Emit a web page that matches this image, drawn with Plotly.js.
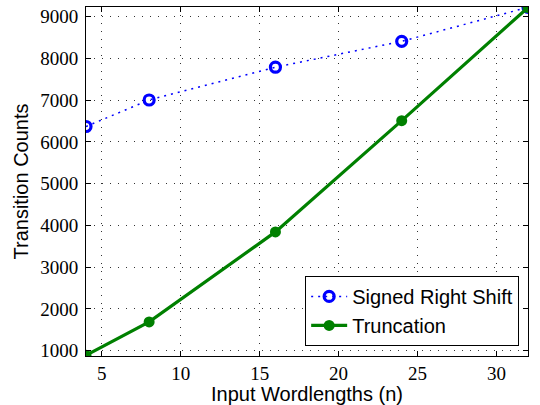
<!DOCTYPE html>
<html><head><meta charset="utf-8">
<script src="https://cdn.plot.ly/plotly-3.0.1.min.js"></script>
<style>body{margin:0;padding:0;background:#fff}#plot{width:540px;height:405px}</style>
</head><body><div id="plot"></div>
<script>
const wordlengths = [4, 8, 16, 24, 32];
const signedRightShift = [6370, 7005, 7790, 8410, 9225];
const truncation = [890, 1690, 3845, 6510, 9220];
const xTicks = [5, 10, 15, 20, 25, 30];
const yTicks = [1000, 2000, 3000, 4000, 5000, 6000, 7000, 8000, 9000];

function axis(extra) {
  return Object.assign({
    showline: true, linecolor: '#000', linewidth: 1, mirror: 'ticks',
    ticks: 'inside', ticklen: 5, tickcolor: '#000',
    showgrid: true, gridcolor: '#333', griddash: '1px,7px', gridwidth: 1,
    zeroline: false,
    tickfont: {family: 'Liberation Serif', size: 19, color: '#000'}
  }, extra);
}

const traces = [
  {x: wordlengths, y: signedRightShift, name: 'Signed Right Shift', mode: 'lines+markers',
   line: {color: '#0000ff', width: 1.5, dash: '2px,5px'},
   marker: {symbol: 'circle-open', size: 10, color: '#0000ff', line: {width: 3.2, color: '#0000ff'}}},
  {x: wordlengths, y: truncation, name: 'Truncation', mode: 'lines+markers',
   line: {color: '#008000', width: 3.2},
   marker: {symbol: 'circle', size: 11, color: '#008000'}}
];
const layout = {
  width: 540, height: 405,
  font: {family: 'Liberation Sans', color: '#000'},
  margin: {l: 86, r: 12, t: 7, b: 49},
  paper_bgcolor: '#fff', plot_bgcolor: '#fff',
  showlegend: true,
  xaxis: axis({range: [4, 32], tickvals: xTicks,
    title: {text: 'Input Wordlengths (n)', standoff: 0, font: {family: 'Liberation Sans', size: 20, color: '#000'}}}),
  yaxis: axis({range: [873, 9232], tickvals: yTicks, ticklabelstandoff: 3,
    title: {text: 'Transition Counts', standoff: 6, font: {family: 'Liberation Sans', size: 20, color: '#000'}}}),
  legend: {x: 0.98, y: 0.029, xanchor: 'right', yanchor: 'bottom',
    bgcolor: '#fff', bordercolor: '#000', borderwidth: 1,
    font: {family: 'Liberation Sans', size: 20, color: '#000'},
    tracegroupgap: 0, itemwidth: 36}
};
Plotly.newPlot('plot', traces, layout, {displayModeBar: false});
</script></body></html>
